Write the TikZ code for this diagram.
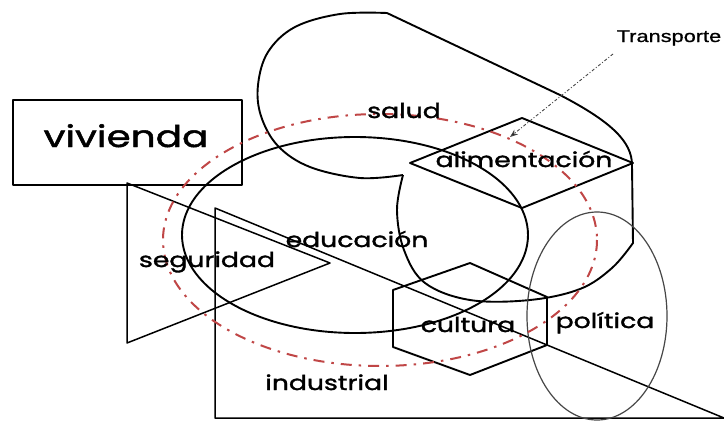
\documentclass[tikz,border=0pt]{standalone}
\usepackage{fontspec}
\newfontfamily\hand[FakeStretch=1.3,FakeBold=1.6]{Poppins}
\newfontfamily\arialf[FakeStretch=1.28,FakeBold=0.8]{Liberation Sans}
\usetikzlibrary{arrows.meta}
\definecolor{dashred}{RGB}{192,70,70}
\definecolor{softgray}{RGB}{70,70,70}
\begin{document}
\begin{tikzpicture}[x=1pt,y=-1pt,
  heavy/.style={draw=black,line width=1.9pt,line join=round},
  medium/.style={draw=black,line width=1.5pt,line join=round},
  thinline/.style={draw=softgray,line width=1.2pt},
  reddash/.style={draw=dashred,line width=2pt,dash pattern=on 11pt off 7pt on 2.5pt off 7pt},
  lbl/.style={font=\hand\fontsize{20.5}{24}\selectfont,inner sep=0pt,anchor=base},
  biglbl/.style={font=\hand\fontsize{30}{34}\selectfont,inner sep=0pt,anchor=base},
  boxstyle/.style={heavy,rectangle,minimum width=229pt,minimum height=85pt,inner sep=0pt},
  pointer/.style={draw=softgray,line width=0.9pt,dash pattern=on 3pt off 2pt on 1pt off 2pt,-{Stealth[length=8pt,width=6pt,fill=black]}}
]
\useasboundingbox (0,0) rectangle (724,421);
\fill[white] (0,0) rectangle (724,421);

% vivienda box
\node[boxstyle] (vivbox) at (127.5,142.5) {};

% seguridad triangle
\draw[medium] (127,183) -- (127,343) -- (330,263) -- cycle;

% industrial triangle
\draw[medium] (215,208) -- (215,418) -- (724,418) -- cycle;

% cylinder (salud)
\draw[heavy] (387,13) -- (560,95) .. controls (612,122) and (632,142) .. (632,165) -- (633,243)
  -- plot[smooth,tension=0.6] coordinates {(633,243) (612,268) (580,289) (530,300) (470,300) (425,283) (404,250) (397,210) (403,175)};
\draw[heavy] plot[smooth,tension=0.6] coordinates {(403,175) (360,178) (310,167) (278,146) (261,116) (258,85) (268,52) (295,27) (340,14) (387,13)};

% educacion ellipse
\draw[heavy] (355,235) ellipse [x radius=173, y radius=98];

% alimentacion diamond
\draw[heavy] (410,163) -- (522,118) -- (633,163) -- (522,208) -- cycle;

% cultura hexagon
\draw[heavy] (470,263) -- (547,297) -- (547,345) -- (470,375) -- (393,347) -- (393,290) -- cycle;

% politica ellipse
\draw[thinline] (597,316) ellipse [x radius=70, y radius=104];

% red dash-dot ellipse
\draw[reddash] (380,240) ellipse [x radius=217, y radius=126];

% labels
\node[biglbl] (viv) at (126,147) {vivienda};
\node[lbl] (sal) at (404,118) {salud};
\node[lbl] (ali) at (524,167) {alimentación};
\node[lbl] (edu) at (357,247) {educación};
\node[lbl] (seg) at (207,267) {seguridad};
\node[lbl] (cul) at (468,332) {cultura};
\node[lbl] (pol) at (605,328) {política};
\node[lbl] (ind) at (327,390) {industrial};
\node[font=\arialf\fontsize{17}{20}\selectfont,inner sep=0pt,anchor=base] (tr) at (669,42) {Transporte};

\coordinate (trs) at (613,54);
\coordinate (tre) at (510,137);
\draw[pointer] (trs) -- (tre);
\end{tikzpicture}
\end{document}
